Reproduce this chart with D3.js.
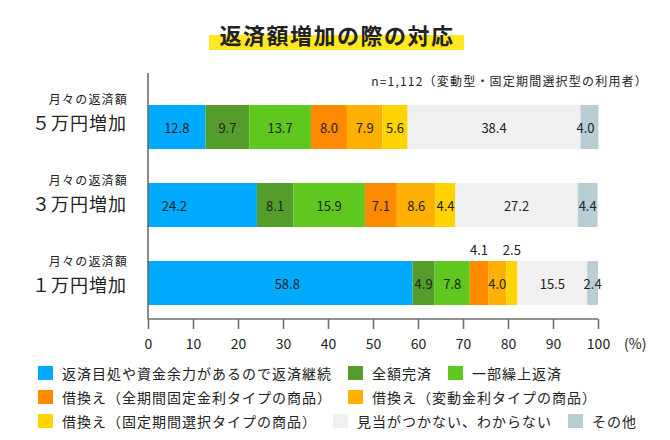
<!DOCTYPE html>
<html><head><meta charset="utf-8">
<script src="https://cdn.jsdelivr.net/npm/d3@7"></script>
<style>
html,body{margin:0;padding:0;background:#fff;}
svg{display:block;}
text{font-family:"Noto Sans CJK JP","Noto Sans",sans-serif;fill:#222;}
</style></head>
<body><svg id="c" width="670" height="440"></svg>
<script>
const title = "返済額増加の際の対応";
const note = "n=1,112（変動型・固定期間選択型の利用者）";
const categories = ["５万円増加", "３万円増加", "１万円増加"];
const subLabel = "月々の返済額";
const seriesNames = [
  "返済目処や資金余力があるので返済継続",
  "全額完済",
  "一部繰上返済",
  "借換え（全期間固定金利タイプの商品）",
  "借換え（変動金利タイプの商品）",
  "借換え（固定期間選択タイプの商品）",
  "見当がつかない、わからない",
  "その他"
];
const colors = ["#00aaff", "#559d2a", "#5ec81e", "#ff8a00", "#ffb000", "#ffd400", "#f0f0f0", "#b9cdd5"];
const values5man = [12.8, 9.7, 13.7, 8.0, 7.9, 5.6, 38.4, 4.0];
const values3man = [24.2, 8.1, 15.9, 7.1, 8.6, 4.4, 27.2, 4.4];
const values1man = [58.8, 4.9, 7.8, 4.1, 4.0, 2.5, 15.5, 2.4];
const xTicks = [0, 10, 20, 30, 40, 50, 60, 70, 80, 90, 100];
const legendRows = [[0, 1, 2], [3, 4], [5, 6, 7]];
// labels drawn above the bar: [category index, series index]
const labelsAbove = [[2, 3], [2, 5]];

const allValues = [values5man, values3man, values1man];
const table = categories.map((c, i) => {
  const row = {cat: c};
  seriesNames.forEach((s, j) => row[s] = allValues[i][j]);
  return row;
});

// label nudges (px) as in the original artwork
const labelNudge = {"1-0": -28, "2-0": 7, "0-7": -4};

const svg = d3.select("#c");
const x = d3.scaleLinear().domain([0, 100]).range([148, 598]);
const y = d3.scaleBand().domain(categories).range([88, 322]).paddingInner(1 - 44/78).paddingOuter((1 - 44/78) / 2);
const yLab = d3.scalePoint().domain(categories).range([98, 260]);

// title
svg.append("rect").attr("x", 209).attr("y", 35).attr("width", 255).attr("height", 15).attr("fill", "#ffe81f");
svg.append("text").attr("x", 337).attr("y", 34).attr("text-anchor", "middle").attr("dominant-baseline", "central")
  .style("font-size", "22px").style("font-weight", 700).style("letter-spacing", "1.5px").text(title);

svg.append("text").attr("x", 648).attr("y", 80).attr("text-anchor", "end").attr("dominant-baseline", "central")
  .style("font-size", "12px").style("letter-spacing", "1.2px").text(note);

// bars
const stack = d3.stack().keys(seriesNames)(table);
const g = svg.append("g");
stack.forEach((layer, j) => {
  g.selectAll(null).data(layer).enter().append("rect")
    .attr("x", d => x(d[0])).attr("width", d => x(d[1]) - x(d[0]))
    .attr("y", d => y(d.data.cat)).attr("height", y.bandwidth())
    .attr("fill", colors[j]);
});
stack.forEach((layer, j) => {
  layer.forEach((d, i) => {
    const above = labelsAbove.some(p => p[0] === i && p[1] === j);
    const yy = above ? y(d.data.cat) - 12 : y(d.data.cat) + y.bandwidth() / 2;
    const nudge = labelNudge[i + "-" + j] || 0;
    svg.append("text").attr("x", (x(d[0]) + x(d[1])) / 2 + nudge).attr("y", yy)
      .attr("text-anchor", "middle").attr("dominant-baseline", "central")
      .style("font-size", "13px").text(d3.format(".1f")(d.data[seriesNames[j]]));
  });
});

// category labels
categories.forEach(c => {
  svg.append("text").attr("x", 128).attr("y", yLab(c)).attr("text-anchor", "end").attr("dominant-baseline", "central")
    .style("font-size", "12px").style("letter-spacing", "1.2px").text(subLabel);
  svg.append("text").attr("x", 127).attr("y", yLab(c) + 24).attr("text-anchor", "end").attr("dominant-baseline", "central")
    .style("font-size", "18px").style("letter-spacing", "1px").text(c);
});

// axes
const axisColor = "#6e6e6e";
svg.append("line").attr("x1", x(0)).attr("x2", x(0)).attr("y1", 73).attr("y2", 319).attr("stroke", axisColor).attr("stroke-width", 1.6);
const xa = svg.append("g").attr("transform", "translate(0,319)")
  .call(d3.axisBottom(x).tickValues(xTicks).tickSize(10).tickPadding(6).tickFormat(d3.format("d")));
xa.select(".domain").attr("stroke", axisColor).attr("stroke-width", 1.6).attr("d", `M${x(0)},0H${x(100)}`);
xa.selectAll(".tick line").attr("stroke", axisColor).attr("stroke-width", 1.6);
xa.selectAll(".tick text").attr("fill", "#222").style("font-size", "14px")
  .style("font-family", '"Noto Sans CJK JP","Noto Sans",sans-serif').attr("dy", null).attr("y", 24).attr("dominant-baseline", "central");
svg.append("text").attr("x", 624).attr("y", 343).attr("dominant-baseline", "central").style("font-size", "14px").text("(%)");

// legend
const rowY = [373, 397, 421];
legendRows.forEach((row, r) => {
  let cx = 38;
  row.forEach(j => {
    svg.append("rect").attr("x", cx).attr("y", rowY[r] - 7).attr("width", 15).attr("height", 14).attr("fill", colors[j]);
    const t = svg.append("text").attr("x", cx + 24).attr("y", rowY[r]).attr("dominant-baseline", "central")
      .style("font-size", "14px").style("letter-spacing", "1px").text(seriesNames[j]);
    cx = cx + 24 + t.node().getComputedTextLength() + 16;
  });
});
</script></body></html>
